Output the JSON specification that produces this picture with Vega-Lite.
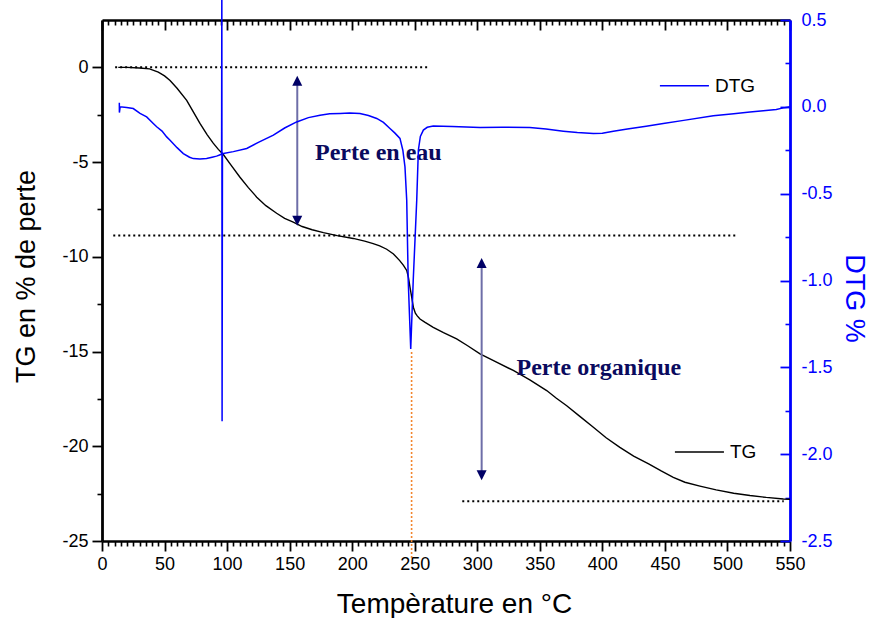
{
  "$schema": "https://vega.github.io/schema/vega-lite/v6.json",
  "autosize": "none",
  "width": 688,
  "height": 521,
  "padding": {"left": 102, "top": 20, "right": 80, "bottom": 77},
  "background": "white",
  "config": {"view": {"stroke": null}, "font": "Liberation Sans"},
  "datasets": {
    "tg": [
      {"t": 13, "v": 0.0}, {"t": 20, "v": 0.0}, {"t": 30, "v": -0.03}, {"t": 38, "v": -0.08},
      {"t": 45, "v": -0.25}, {"t": 50, "v": -0.45}, {"t": 54.4, "v": -0.69}, {"t": 60, "v": -1.1},
      {"t": 67.7, "v": -1.74}, {"t": 73, "v": -2.35}, {"t": 78.3, "v": -2.96}, {"t": 84, "v": -3.55},
      {"t": 88.9, "v": -4.0}, {"t": 93, "v": -4.33}, {"t": 97, "v": -4.6}, {"t": 103, "v": -5.15},
      {"t": 110.3, "v": -5.8}, {"t": 117, "v": -6.35}, {"t": 123.7, "v": -6.85}, {"t": 131, "v": -7.3},
      {"t": 139.6, "v": -7.7}, {"t": 146, "v": -7.97}, {"t": 152.9, "v": -8.17}, {"t": 160, "v": -8.4},
      {"t": 168, "v": -8.57}, {"t": 177, "v": -8.72}, {"t": 188, "v": -8.88}, {"t": 200.8, "v": -9.03},
      {"t": 210, "v": -9.17}, {"t": 216.8, "v": -9.3}, {"t": 222, "v": -9.42}, {"t": 227.6, "v": -9.6},
      {"t": 233, "v": -9.85}, {"t": 238, "v": -10.2}, {"t": 241, "v": -10.45}, {"t": 243.6, "v": -10.72},
      {"t": 245, "v": -11.1}, {"t": 246.2, "v": -11.6}, {"t": 247.5, "v": -12.1}, {"t": 248.9, "v": -12.66},
      {"t": 250.5, "v": -12.98}, {"t": 252, "v": -13.12}, {"t": 254.2, "v": -13.28}, {"t": 258, "v": -13.45},
      {"t": 264.8, "v": -13.72}, {"t": 273, "v": -14.0}, {"t": 283.5, "v": -14.33}, {"t": 292, "v": -14.68},
      {"t": 302.2, "v": -15.12}, {"t": 315, "v": -15.55}, {"t": 328.8, "v": -16.0}, {"t": 342, "v": -16.5},
      {"t": 355.5, "v": -17.06}, {"t": 363, "v": -17.45}, {"t": 371.5, "v": -17.86}, {"t": 382, "v": -18.42},
      {"t": 392.8, "v": -19.0}, {"t": 403, "v": -19.55}, {"t": 414, "v": -20.06}, {"t": 425, "v": -20.52},
      {"t": 437, "v": -20.93}, {"t": 447, "v": -21.3}, {"t": 456.7, "v": -21.64}, {"t": 466, "v": -21.9},
      {"t": 478, "v": -22.1}, {"t": 491, "v": -22.3}, {"t": 505, "v": -22.48}, {"t": 518, "v": -22.6},
      {"t": 531, "v": -22.7}, {"t": 544.7, "v": -22.78}, {"t": 550, "v": -22.8}
    ],
    "dtg": [
      {"t": 13.85, "d": 0.023}, {"t": 13.9, "d": -0.033}, {"t": 14.5, "d": 0.0}, {"t": 19.7, "d": -0.004},
      {"t": 25, "d": -0.01}, {"t": 30.4, "d": -0.038}, {"t": 35.7, "d": -0.058}, {"t": 41, "d": -0.096},
      {"t": 43.7, "d": -0.115}, {"t": 48, "d": -0.14}, {"t": 51.7, "d": -0.173}, {"t": 54.4, "d": -0.192},
      {"t": 60, "d": -0.235}, {"t": 65, "d": -0.269}, {"t": 70, "d": -0.29}, {"t": 73, "d": -0.298},
      {"t": 78.3, "d": -0.3}, {"t": 83.6, "d": -0.298}, {"t": 88, "d": -0.29}, {"t": 91.6, "d": -0.284},
      {"t": 94.5, "d": -0.276}, {"t": 95.6, "d": -0.27}, {"t": 95.8, "d": 0.75}, {"t": 96.0, "d": -1.81},
      {"t": 96.3, "d": -0.27}, {"t": 97, "d": -0.269}, {"t": 105, "d": -0.258}, {"t": 115.7, "d": -0.24},
      {"t": 125, "d": -0.205}, {"t": 137, "d": -0.163}, {"t": 146, "d": -0.122}, {"t": 155.6, "d": -0.087},
      {"t": 165, "d": -0.062}, {"t": 174.3, "d": -0.048}, {"t": 182, "d": -0.04}, {"t": 190.3, "d": -0.038},
      {"t": 198, "d": -0.036}, {"t": 206.2, "d": -0.038}, {"t": 213, "d": -0.05}, {"t": 219.6, "d": -0.067},
      {"t": 225, "d": -0.09}, {"t": 230.2, "d": -0.125}, {"t": 234, "d": -0.15}, {"t": 238.2, "d": -0.182},
      {"t": 240.5, "d": -0.25}, {"t": 242.2, "d": -0.346}, {"t": 243.6, "d": -0.538}, {"t": 244.8, "d": -1.0},
      {"t": 246.8, "d": -1.394}, {"t": 248.8, "d": -1.0}, {"t": 250.5, "d": -0.72}, {"t": 251.6, "d": -0.538},
      {"t": 252.9, "d": -0.25}, {"t": 254.5, "d": -0.17}, {"t": 256.9, "d": -0.134}, {"t": 260, "d": -0.118},
      {"t": 264.8, "d": -0.111}, {"t": 280, "d": -0.113}, {"t": 302.2, "d": -0.119}, {"t": 320, "d": -0.118},
      {"t": 342, "d": -0.119}, {"t": 355, "d": -0.128}, {"t": 368.8, "d": -0.14}, {"t": 380, "d": -0.148},
      {"t": 392.8, "d": -0.154}, {"t": 400, "d": -0.152}, {"t": 408.8, "d": -0.14}, {"t": 420, "d": -0.128},
      {"t": 435, "d": -0.112}, {"t": 448.7, "d": -0.096}, {"t": 465, "d": -0.078}, {"t": 488.7, "d": -0.052},
      {"t": 505, "d": -0.04}, {"t": 518, "d": -0.03}, {"t": 528.7, "d": -0.023}, {"t": 539, "d": -0.015},
      {"t": 544.7, "d": -0.006}, {"t": 548, "d": -0.002}, {"t": 550, "d": 0.0}
    ],
    "dotted": [
      {"x1": 10.5, "x2": 260, "y": 0},
      {"x1": 9, "x2": 508, "y": -8.88},
      {"x1": 288, "x2": 545, "y": -22.9}
    ],
    "marker": [{"x": 247.5, "y1": -15.03, "y2": -25.9}],
    "arrows": [
      {"x": 156.1, "y1": -0.7, "y2": -8.09},
      {"x": 303.5, "y1": -10.32, "y2": -21.53}
    ],
    "heads": [
      {"x": 156.1, "y": -0.7, "end": "top"},
      {"x": 156.1, "y": -8.09, "end": "bottom"},
      {"x": 303.5, "y": -10.32, "end": "top"},
      {"x": 303.5, "y": -21.53, "end": "bottom"}
    ],
    "notes": [
      {"x": 170.3, "y": -4.88, "label": "Perte en eau"},
      {"x": 331.4, "y": -16.26, "label": "Perte organique"}
    ],
    "legend": [
      {"name": "DTG", "x1": 446, "x2": 485.2, "y": -0.97, "tx": 490},
      {"name": "TG", "x1": 458, "x2": 497.2, "y": -20.3, "tx": 502}
    ]
  },
  "layer": [
    {
      "layer": [
        {
          "data": {"name": "tg"},
          "mark": {"type": "line", "color": "black", "strokeWidth": 1.4},
          "encoding": {
            "x": {
              "field": "t", "type": "quantitative",
              "scale": {"domain": [0, 550], "nice": false, "zero": false},
              "axis": {
                "orient": "bottom", "title": "Tempèrature en °C",
                "values": [0,50,100,150,200,250,300,350,400,450,500,550],
                "labelExpr": "'' + datum.value",
                "tickSize": 10, "tickColor": "black", "tickWidth": 1.8,
                "domainColor": "black", "domainWidth": 2.5,
                "labelFontSize": 18, "labelColor": "black", "labelFont": "Liberation Sans",
                "labelPadding": 4, "labelFlush": false, "labelOverlap": false,
                "titleFontSize": 28, "titleFont": "Liberation Sans", "titleFontWeight": "normal",
                "titleColor": "black", "titlePadding": 17, "titleX": 352, "grid": false
              }
            },
            "y": {
              "field": "v", "type": "quantitative",
              "scale": {"domain": [-25, 2.5], "nice": false, "zero": false},
              "axis": {
                "orient": "left", "title": "TG en % de perte",
                "values": [-25,-20,-15,-10,-5,0],
                "labelExpr": "'' + datum.value",
                "tickSize": 10, "tickColor": "black", "tickWidth": 1.8,
                "domainColor": "black", "domainWidth": 2.8,
                "labelFontSize": 18, "labelColor": "black", "labelFont": "Liberation Sans",
                "labelPadding": 4, "labelFlush": false, "labelOverlap": false,
                "titleFontSize": 27, "titleFont": "Liberation Sans", "titleFontWeight": "normal",
                "titleColor": "black", "titlePadding": 21, "titleY": 256, "grid": false
              }
            }
          }
        },
        {
          "data": {"name": "dotted"},
          "mark": {"type": "rule", "color": "black", "strokeWidth": 2, "strokeDash": [2, 3]},
          "encoding": {
            "x": {"field": "x1", "type": "quantitative",
              "axis": {
                "orient": "bottom", "title": null, "labels": false, "domain": false, "grid": false,
                "values": [5,10,15,20,25,30,35,40,45,55,60,65,70,75,80,85,90,95,105,110,115,120,125,130,135,140,145,155,160,165,170,175,180,185,190,195,205,210,215,220,225,230,235,240,245,255,260,265,270,275,280,285,290,295,305,310,315,320,325,330,335,340,345,355,360,365,370,375,380,385,390,395,405,410,415,420,425,430,435,440,445,455,460,465,470,475,480,485,490,495,505,510,515,520,525,530,535,540,545],
                "tickSize": 5, "tickColor": "black", "tickWidth": 1.6
              }},
            "x2": {"field": "x2"},
            "y": {"field": "y", "type": "quantitative",
              "axis": {
                "orient": "left", "title": null, "labels": false, "domain": false, "grid": false,
                "values": [-22.5,-17.5,-12.5,-7.5,-2.5],
                "tickSize": 5, "tickColor": "black", "tickWidth": 1.6
              }}
          }
        },
        {
          "data": {"name": "marker"},
          "mark": {"type": "rule", "color": "#f2862e", "strokeWidth": 1.6, "strokeDash": [2, 2]},
          "encoding": {
            "x": {"field": "x", "type": "quantitative", "axis": null},
            "y": {"field": "y1", "type": "quantitative", "axis": null},
            "y2": {"field": "y2"}
          }
        },
        {
          "data": {"name": "arrows"},
          "mark": {"type": "rule", "color": "#6e6ea8", "strokeWidth": 2},
          "encoding": {
            "x": {"field": "x", "type": "quantitative", "axis": null},
            "y": {"field": "y1", "type": "quantitative", "axis": null},
            "y2": {"field": "y2"}
          }
        },
        {
          "data": {"name": "heads"},
          "mark": {"type": "point", "filled": true, "color": "#000066", "opacity": 1, "size": 100},
          "encoding": {
            "x": {"field": "x", "type": "quantitative", "axis": null},
            "y": {"field": "y", "type": "quantitative", "axis": null},
            "shape": {"field": "end", "type": "nominal", "legend": null,
              "scale": {"domain": ["top", "bottom"], "range": ["M-1,1L1,1L0,-1Z", "M-1,-1L1,-1L0,1Z"]}}
          }
        },
        {
          "data": {"name": "notes"},
          "mark": {"type": "text", "font": "Liberation Serif", "fontWeight": "bold", "fontSize": 24,
            "color": "#0a0a5e", "align": "left", "baseline": "alphabetic"},
          "encoding": {
            "x": {"field": "x", "type": "quantitative", "axis": null},
            "y": {"field": "y", "type": "quantitative", "axis": null},
            "text": {"field": "label"}
          }
        },
        {
          "data": {"name": "legend"},
          "mark": {"type": "rule", "strokeWidth": 1.4},
          "encoding": {
            "x": {"field": "x1", "type": "quantitative", "axis": null},
            "x2": {"field": "x2"},
            "y": {"field": "y", "type": "quantitative", "axis": null},
            "color": {"field": "name", "type": "nominal", "legend": null,
              "scale": {"domain": ["TG", "DTG"], "range": ["black", "#0000ff"]}}
          }
        },
        {
          "data": {"name": "legend"},
          "mark": {"type": "text", "font": "Liberation Sans", "fontSize": 19, "color": "black",
            "align": "left", "baseline": "middle"},
          "encoding": {
            "x": {"field": "tx", "type": "quantitative", "axis": null},
            "y": {"field": "y", "type": "quantitative", "axis": null},
            "text": {"field": "name"}
          }
        }
      ],
      "resolve": {"axis": {"x": "independent", "y": "independent"}}
    },
    {
      "layer": [
        {
          "data": {"name": "dtg"},
          "mark": {"type": "line", "color": "#0000ff", "strokeWidth": 1.5},
          "encoding": {
            "x": {
              "field": "t", "type": "quantitative",
              "scale": {"domain": [0, 550], "nice": false, "zero": false},
              "axis": {
                "orient": "top", "title": null, "labels": false,
                "values": [0,50,100,150,200,250,300,350,400,450,500,550],
                "tickSize": -10, "tickColor": "black", "tickWidth": 1.8,
                "domainColor": "black", "domainWidth": 2.5, "grid": false
              }
            },
            "y": {
              "field": "d", "type": "quantitative",
              "scale": {"domain": [-2.5, 0.5], "nice": false, "zero": false},
              "axis": {
                "orient": "right", "title": "DTG %",
                "values": [-2.5,-2,-1.5,-1,-0.5,0,0.5],
                "labelExpr": "replace(format(datum.value, '.1f'), '\u2212', '-')",
                "tickSize": -10, "tickColor": "#0000ff", "tickWidth": 1.8,
                "domainColor": "#0000ff", "domainWidth": 2.8,
                "labelFontSize": 18, "labelColor": "#0000ff", "labelFont": "Liberation Sans",
                "labelPadding": 21, "labelFlush": false, "labelOverlap": false,
                "titleFontSize": 27, "titleFont": "Liberation Sans", "titleFontWeight": "normal",
                "titleColor": "#0000ff", "titlePadding": 7, "titleY": 278, "grid": false
              }
            }
          }
        },
        {
          "data": {"name": "dtg"},
          "mark": {"type": "line", "opacity": 0},
          "encoding": {
            "x": {
              "field": "t", "type": "quantitative",
              "axis": {
                "orient": "top", "title": null, "labels": false, "domain": false, "grid": false,
                "values": [5,10,15,20,25,30,35,40,45,55,60,65,70,75,80,85,90,95,105,110,115,120,125,130,135,140,145,155,160,165,170,175,180,185,190,195,205,210,215,220,225,230,235,240,245,255,260,265,270,275,280,285,290,295,305,310,315,320,325,330,335,340,345,355,360,365,370,375,380,385,390,395,405,410,415,420,425,430,435,440,445,455,460,465,470,475,480,485,490,495,505,510,515,520,525,530,535,540,545],
                "tickSize": -5, "tickColor": "black", "tickWidth": 1.6
              }
            },
            "y": {
              "field": "d", "type": "quantitative",
              "axis": {
                "orient": "right", "title": null, "labels": false, "domain": false, "grid": false,
                "values": [-2.25,-1.75,-1.25,-0.75,-0.25,0.25],
                "tickSize": -5, "tickColor": "#0000ff", "tickWidth": 1.6
              }
            }
          }
        }
      ],
      "resolve": {"axis": {"x": "independent", "y": "independent"}}
    }
  ],
  "resolve": {"scale": {"y": "independent"}, "axis": {"x": "independent", "y": "independent"}}
}
